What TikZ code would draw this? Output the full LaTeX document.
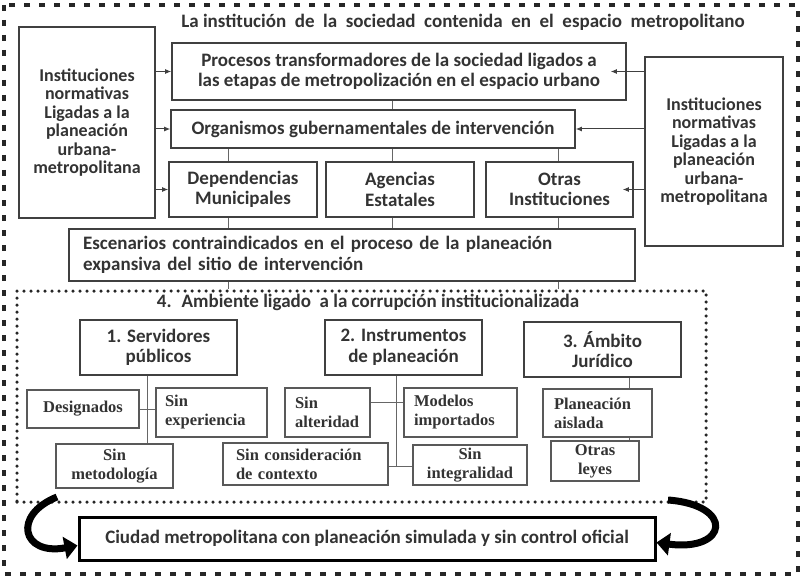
\documentclass[tikz,border=0pt]{standalone}
\usepackage{fontspec}
\setmainfont{Carlito}
\newfontfamily\serifbf{Liberation Serif}
\usetikzlibrary{arrows.meta,calc}
\begin{document}
\begin{tikzpicture}[x=1pt,y=-1pt,
  box/.style={draw=black!75, line width=1.6pt, inner sep=0pt, align=center, text=black!80,
    font=\bfseries\fontsize{19}{20.5}\selectfont},
  tallbox/.style={box, font=\bfseries\fontsize{18}{18.5}\selectfont},
  sbox/.style={draw=black!65, line width=1.3pt, inner sep=0pt, align=center, text=black!80,
    font=\serifbf\bfseries\fontsize{16.5}{19}\selectfont},
  ttl/.style={inner sep=0pt, text=black!80, font=\bfseries\fontsize{19}{20}\selectfont},
  arr/.style={draw=black!75, line width=1pt, -{Latex[length=6pt,width=5pt]}},
  link/.style={draw=black!60, line width=1pt},
  fat/.style={draw=black, line width=7pt, -{Triangle[length=13pt,width=22pt]}},
  outerbd/.style={draw=black!85, line width=4.5pt, dash pattern=on 6pt off 9pt},
  innerbd/.style={draw=black!85, line width=3.5pt, line cap=round, dash pattern=on 0pt off 7pt}
]
\useasboundingbox (0,0) rectangle (805,580);
\fill[white] (0,0) rectangle (805,580);
\draw[outerbd] (4,5) rectangle (798,574);

\node[ttl] (t1) at (463,22) {La institución \ de \ la \ sociedad \ contenida \ en \ el \ espacio \ metropolitano};

\node[tallbox, minimum width=136, minimum height=191] (left) at (87,122.5)
  {Instituciones\\normativas\\Ligadas a la\\planeación\\urbana-\\metropolitana};
\node[tallbox, minimum width=138, minimum height=189] (right) at (714,151.5)
  {Instituciones\\normativas\\Ligadas a la\\planeación\\urbana-\\metropolitana};

\node[box, minimum width=454, minimum height=57] (proc) at (399,71.5)
  {Procesos transformadores de la sociedad ligados a\\las etapas de metropolización en el espacio urbano};
\node[box, minimum width=404, minimum height=38] (org) at (373,129)
  {Organismos gubernamentales de intervención};
\node[box, minimum width=148, minimum height=55] (dep) at (243,189.5) {Dependencias\\Municipales};
\node[box, minimum width=148, minimum height=55] (age) at (400,189.5) {Agencias\\Estatales};
\node[box, minimum width=147, minimum height=55] (otr) at (559.5,189.5) {Otras\\Instituciones};
\node[box, align=left, text width=538, inner xsep=14pt, minimum height=52] (esc) at (352,255)
  {Escenarios contraindicados en el proceso de la planeación\\expansiva del sitio de intervención};

\node[innerbd, minimum width=689, minimum height=211, inner sep=0pt] (amb) at (361.5,396.5) {};
\node[ttl] (t2) at (368,302) {4. \ Ambiente ligado \ a la corrupción institucionalizada};

\node[box, minimum width=157, minimum height=55] (serv) at (158.5,347.5) {1. Servidores\\públicos};
\node[box, minimum width=157, minimum height=55] (inst) at (403.5,347.5) {2. Instrumentos\\de planeación};
\node[box, minimum width=157, minimum height=55] (jur) at (602.5,349.5) {3. Ámbito\\Jurídico};

\node[sbox, minimum width=112, minimum height=38] (des) at (83,409) {Designados};
\node[sbox, align=left, text width=93, inner xsep=9pt, minimum height=49] (exp) at (211.5,412.5) {Sin\\experiencia};
\node[sbox, minimum width=117, minimum height=44] (met) at (114.5,466) {Sin\\metodología};
\node[sbox, align=left, text width=65, inner xsep=10pt, minimum height=49] (alt) at (327.5,412.5) {Sin\\alteridad};
\node[sbox, align=left, text width=93, inner xsep=10pt, minimum height=49] (mod) at (460.5,412.5) {Modelos\\importados};
\node[sbox, align=left, text width=139, inner xsep=13pt, minimum height=42] (con) at (305.5,464) {Sin consideración\\de contexto};
\node[sbox, minimum width=114, minimum height=40] (int) at (470,465) {Sin\\integralidad};
\node[sbox, align=left, text width=87, inner xsep=11pt, minimum height=48] (ais) at (597.5,413) {Planeación\\aislada};
\node[sbox, minimum width=88, minimum height=40] (ley) at (595,461) {Otras\\leyes};

\node[box, draw=black, line width=3pt, minimum width=576, minimum height=43] (ciu) at (367,538.5)
  {Ciudad metropolitana con planeación simulada y sin control oficial};

% helper coordinates
\coordinate (cx1) at (228,0);
\coordinate (cx2) at (392,0);
\coordinate (cx3) at (558,0);
\coordinate (cx4) at (147,0);
\coordinate (cx5) at (396,0);
\coordinate (cx6) at (629,0);
\coordinate (cy1) at (0,402);
\coordinate (cy2) at (0,466);

% arrows from side boxes
\draw[arr] (left.east |- proc.west) -- (proc.west);
\draw[arr] (left.east |- org.west) -- (org.west);
\draw[arr] (left.east |- dep.west) -- (dep.west);
\draw[arr] (right.west |- proc.east) -- ([xshift=-16pt]proc.east);
\draw[arr] (right.west |- org.east) -- (org.east);
\draw[arr] (right.west |- otr.east) -- ([xshift=-11pt]otr.east);

% vertical links
\draw[link] (proc.south -| cx2) -- (org.north -| cx2);
\draw[link] (org.south -| cx1) -- (dep.north -| cx1);
\draw[link] (org.south -| cx2) -- (age.north -| cx2);
\draw[link] (org.south -| cx3) -- (otr.north -| cx3);
\draw[link] (dep.south -| cx1) -- (esc.north -| cx1);
\draw[link] (age.south -| cx2) -- (esc.north -| cx2);
\draw[link] (otr.south -| cx3) -- (esc.north -| cx3);
\draw[link] (esc.south -| cx1) -- (amb.north -| cx1);
\draw[link] (esc.south -| cx3) -- (amb.north -| cx3);

\draw[link] (serv.south -| cx4) -- (met.north -| cx4);
\draw[link] (des.east) -- (exp.west |- des.east);
\draw[link] (inst.south -| cx5) -- (cx5 |- cy2);
\draw[link] (alt.east |- cy1) -- (mod.west |- cy1);
\draw[link] (con.east |- cy2) -- (int.west |- cy2);
\draw[link] (jur.south -| cx6) -- (ais.north -| cx6);
\draw[link] (ais.south -| cx6) -- (ley.north -| cx6);

% fat curved arrows
\coordinate (fl) at (57,497);
\coordinate (fr) at (668,500);
\draw[fat] (fl) .. controls (12,515) and (22,556) .. ([yshift=-7pt]ciu.west);
\draw[fat] (fr) .. controls (735,505) and (728,552) .. ([yshift=-4pt]ciu.east);
\end{tikzpicture}
\end{document}
